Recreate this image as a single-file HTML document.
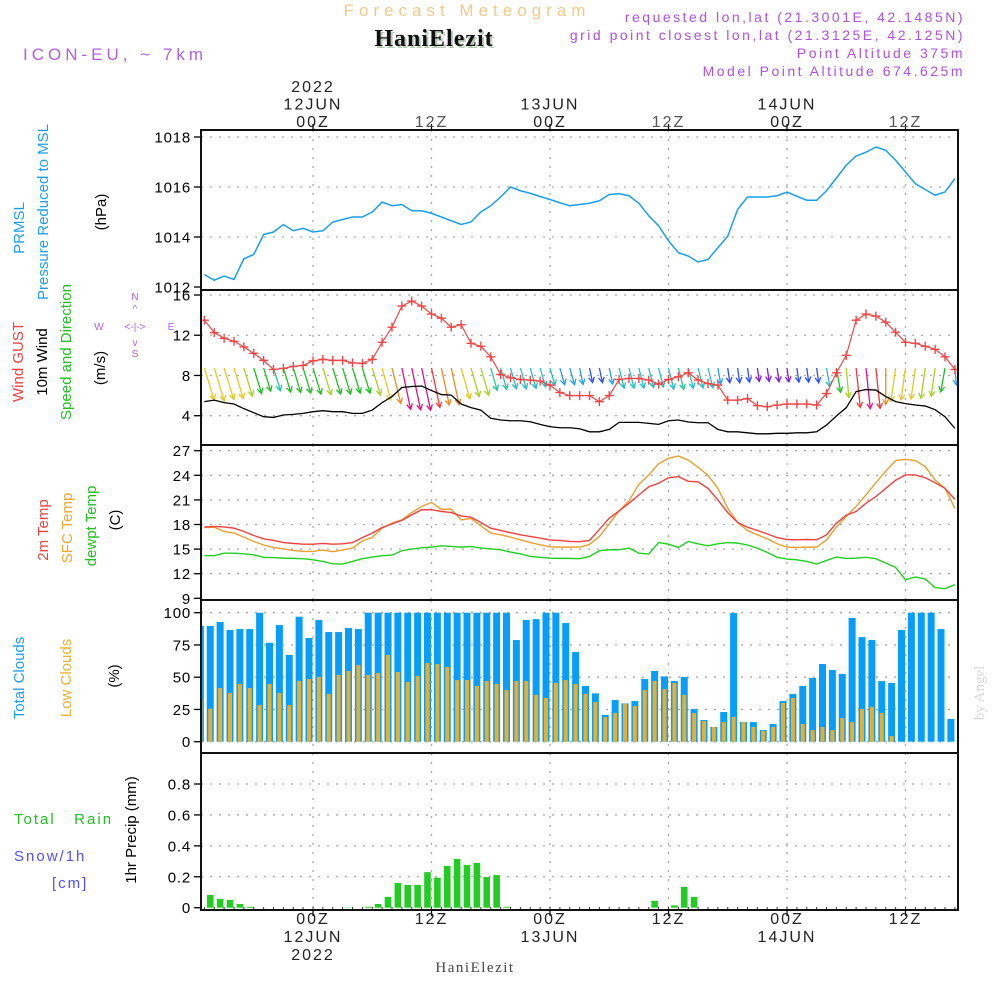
<!DOCTYPE html>
<html><head><meta charset="utf-8"><style>
html,body{margin:0;padding:0;background:#fff}
svg{display:block}
text{font-family:"Liberation Sans",sans-serif}
text.serif{font-family:"Liberation Serif",serif}
</style></head><body>
<svg id="chart" width="1000" height="1000" viewBox="0 0 1000 1000" xmlns="http://www.w3.org/2000/svg">
<text x="467" y="16" font-size="17" fill="#f2c98a" text-anchor="middle" letter-spacing="5">Forecast Meteogram</text>
<text class="serif" x="436" y="48" font-size="24" font-weight="bold" fill="#b8ccb8" text-anchor="middle" letter-spacing="1">HaniElezit</text>
<text class="serif" x="434" y="46" font-size="24" font-weight="bold" fill="#111" text-anchor="middle" letter-spacing="1">HaniElezit</text>
<text x="23" y="60" font-size="17" fill="#b060e0" letter-spacing="4">ICON-EU, ~ 7km</text>
<g font-size="14" fill="#b050e0" text-anchor="end" letter-spacing="2.5">
<text x="965" y="22">requested lon,lat (21.3001E, 42.1485N)</text>
<text x="965" y="40">grid point closest lon,lat (21.3125E, 42.125N)</text>
<text x="965" y="58">Point Altitude 375m</text>
<text x="965" y="76">Model Point Altitude 674.625m</text>
</g>
<g id="plots"></g>
<g id="labels" font-size="15">
<text transform="translate(24,228) rotate(-90)" fill="#1a9ff0" text-anchor="middle">PRMSL</text>
<text transform="translate(48,212) rotate(-90)" fill="#1a9ff0" text-anchor="middle">Pressure Reduced to MSL</text>
<text transform="translate(106,212) rotate(-90)" fill="#000" text-anchor="middle">(hPa)</text>
<text transform="translate(23,362) rotate(-90)" fill="#f04040" text-anchor="middle">Wind GUST</text>
<text transform="translate(47,362) rotate(-90)" fill="#000" text-anchor="middle">10m Wind</text>
<text transform="translate(71,352) rotate(-90)" fill="#20c020" text-anchor="middle">Speed and Direction</text>
<text transform="translate(105,368) rotate(-90)" fill="#000" text-anchor="middle">(m/s)</text>
<g fill="#b060e0" font-size="10" text-anchor="middle">
<text x="135" y="300">N</text><text x="99" y="330">W</text><text x="171" y="330">E</text><text x="135" y="357">S</text>
<text x="135" y="330">&lt;-|-&gt;</text><text x="135" y="312">^</text><text x="135" y="346">v</text>
</g>
<text transform="translate(48,530) rotate(-90)" fill="#f04040" text-anchor="middle">2m Temp</text>
<text transform="translate(72,528) rotate(-90)" fill="#f0a830" text-anchor="middle">SFC Temp</text>
<text transform="translate(96,526) rotate(-90)" fill="#20c020" text-anchor="middle">dewpt Temp</text>
<text transform="translate(120,520) rotate(-90)" fill="#000" text-anchor="middle">(C)</text>
<text transform="translate(24,678) rotate(-90)" fill="#1a9ff0" text-anchor="middle">Total Clouds</text>
<text transform="translate(71,678) rotate(-90)" fill="#f0b030" text-anchor="middle">Low Clouds</text>
<text transform="translate(119,676) rotate(-90)" fill="#000" text-anchor="middle">(%)</text>
<text x="14" y="824" fill="#20c020" letter-spacing="2" xml:space="preserve">Total   Rain</text>
<text x="14" y="861" fill="#5050f0" letter-spacing="2">Snow/1h</text>
<text x="52" y="888" fill="#5050f0" letter-spacing="2">[cm]</text>
<text transform="translate(136,830) rotate(-90)" fill="#000" text-anchor="middle">1hr Precip (mm)</text>
</g>
<text class="serif" x="475" y="972" font-size="15" fill="#444" text-anchor="middle" letter-spacing="1.5">HaniElezit</text>
<text class="serif" transform="translate(984,693) rotate(-90)" font-size="15" fill="#d8d8d8" text-anchor="middle">by Angel</text>
</svg>
<script>
// ---- data (hourly, 13Z 11JUN .. 17Z 14JUN) ----
const hours = Array.from({length:77},(_,i)=>i-11);
const pressure = [1012.5,1012.27,1012.44,1012.3,1013.13,1013.3,1014.1,1014.2,1014.5,1014.25,1014.35,1014.2,1014.25,1014.6,1014.7,1014.8,1014.8,1015.0,1015.4,1015.25,1015.3,1015.05,1015.05,1014.95,1014.8,1014.65,1014.5,1014.6,1015.0,1015.25,1015.6,1016.0,1015.85,1015.75,1015.62,1015.5,1015.37,1015.25,1015.3,1015.35,1015.45,1015.7,1015.73,1015.65,1015.35,1014.85,1014.45,1013.85,1013.37,1013.24,1013.0,1013.1,1013.57,1014.03,1015.1,1015.6,1015.6,1015.6,1015.65,1015.8,1015.63,1015.47,1015.47,1015.85,1016.36,1016.87,1017.24,1017.39,1017.6,1017.47,1017.07,1016.6,1016.13,1015.9,1015.67,1015.8,1016.33];
const gust = [13.5,12.26,11.7,11.4,10.84,10.2,9.5,8.6,8.7,8.9,9.0,9.45,9.6,9.5,9.5,9.25,9.2,9.6,11.3,12.8,14.9,15.4,14.9,14.1,13.7,12.8,13.05,11.2,10.9,9.85,8.1,7.77,7.6,7.54,7.44,7.04,6.3,6.0,6.0,6.0,5.4,6.0,7.6,7.7,7.7,7.54,7.14,7.6,7.87,8.26,7.54,7.2,7.04,5.55,5.55,5.7,5.0,4.9,5.06,5.16,5.16,5.16,5.06,6.2,8.26,10.0,13.5,14.1,13.9,13.3,12.3,11.3,11.2,10.9,10.6,9.85,8.6];
const windSpeed = [5.4,5.55,5.3,5.16,4.7,4.3,3.9,3.83,4.07,4.13,4.23,4.4,4.5,4.4,4.4,4.23,4.23,4.56,5.3,5.9,6.8,6.9,6.95,6.5,6.1,6.05,5.16,4.8,4.56,3.74,3.57,3.5,3.5,3.4,3.14,2.9,2.8,2.8,2.7,2.4,2.4,2.64,3.34,3.34,3.34,3.24,3.14,3.5,3.57,3.37,3.3,3.3,2.64,2.4,2.4,2.3,2.2,2.2,2.25,2.25,2.3,2.3,2.4,3.07,3.97,4.8,6.4,6.6,6.55,5.9,5.4,5.2,5.06,4.96,4.6,3.9,2.74];
const windDir = [343,343,343,343,343,343,343,343,343,343,343,343,343,343,343,343,343,343,345,346,348,348,348,348,348,348,344,344,344,344,344,344,344,344,344,344,344,344,348,348,348,348,346,346,346,346,346,346,346,346,346,346,350,352,352,352,352,352,352,352,352,352,352,350,350,355,354,354,354,0,8,8,8,8,8,10,355];
const temp2m = [17.7,17.76,17.7,17.55,17.15,16.66,16.26,16.05,15.8,15.69,15.6,15.6,15.69,15.6,15.65,15.8,16.4,16.95,17.63,18.08,18.5,19.17,19.8,19.8,19.6,19.46,19.05,18.9,18.24,17.55,17.27,17.0,16.74,16.54,16.34,16.1,16.05,15.93,15.9,16.05,17.4,18.77,19.66,20.6,21.6,22.6,23.03,23.7,23.84,23.27,23.2,22.4,21.0,19.45,18.24,17.67,17.27,16.86,16.4,16.17,16.13,16.17,16.13,16.74,18.16,19.13,19.58,20.6,21.4,22.4,23.4,24.04,24.04,23.7,23.1,22.4,21.08];
const tempSfc = [17.63,17.67,17.15,16.95,16.46,15.93,15.5,15.2,15.04,14.84,14.72,14.72,14.88,14.68,14.88,15.12,16.0,16.42,17.55,18.16,18.57,19.46,20.2,20.7,19.86,19.86,18.57,18.73,17.84,16.95,16.74,16.46,16.13,15.8,15.53,15.28,15.24,15.24,15.24,15.57,16.54,18.08,19.66,20.9,22.9,24.04,25.4,26.07,26.35,25.86,24.97,24.0,22.4,19.98,18.24,17.27,16.74,16.26,15.65,15.24,15.2,15.24,15.24,16.13,17.67,18.97,20.2,21.6,23.1,24.5,25.8,25.94,25.8,25.05,23.43,22.4,19.98];
const dewpt = [14.2,14.2,14.5,14.5,14.43,14.3,14.0,13.97,13.9,13.87,13.83,13.7,13.5,13.2,13.18,13.5,13.83,14.03,14.2,14.27,14.8,15.0,15.16,15.24,15.4,15.32,15.24,15.32,15.12,15.04,14.92,14.64,14.43,14.1,14.0,13.9,13.87,13.87,13.83,14.1,14.8,14.92,14.92,15.12,14.5,14.4,15.8,15.6,15.2,15.93,15.65,15.4,15.65,15.8,15.73,15.5,15.12,14.6,14.0,13.78,13.7,13.5,13.18,13.62,14.03,13.86,13.9,14.0,13.83,13.3,12.77,11.27,11.6,11.35,10.3,10.17,10.66];
const totalClouds = [89.7,89.7,92.8,86.6,87.3,87.3,100,76.7,90.4,67.2,96.9,80.4,94.3,85,85,88.1,87.3,100,100,100,100,100,100,100,100,100,100,100,100,100,100,100,78.8,94.3,95,100,100,92,69.5,43.2,37.5,20.7,32.3,29.7,31.5,48.6,54.8,50.6,47,50.1,25.3,16.8,11.4,23,99.7,15.2,15.2,9,13.7,31.5,37,43.2,49.4,60.2,55.6,52.5,95.9,81.1,78.8,47,45.5,86.6,100,100,100,87.3,17.6];
const lowClouds = [33.3,25.6,41.6,37.7,44.7,41.6,28.4,44.7,37.7,28.4,47,48.6,50.1,37,51.7,54.8,59.4,51.7,53.2,67.2,54,46.3,50.9,61,60.2,57.9,47.8,47.8,43.2,47,44.7,40,47,47,36.2,33.9,45.5,47.8,44.7,37,30.7,19.1,22.2,29.5,27.6,40,47,40.8,45.5,36.2,22.2,16,11.4,15.2,19.1,15.2,11.4,8.3,11.4,30,33.9,13.7,9,11.4,9,18.3,15.2,25.3,26.9,22.2,4.4,0,0,0,0,0,0];
const precip = [0,0.082,0.056,0.05,0.024,0.006,0,0,0,0,0,0,0,0,0,0.002,0,0.006,0.024,0.07,0.16,0.147,0.147,0.23,0.194,0.27,0.315,0.276,0.289,0.198,0.211,0.006,0,0,0,0,0,0,0,0,0,0,0,0,0,0,0.045,0,0.015,0.135,0.07,0,0,0,0,0,0,0,0,0,0,0,0,0,0,0,0,0,0,0,0,0,0,0,0,0,0];
const pTicks = [1012,1014,1016,1018];
const wTicks = [4,8,12,16];
const tTicks = [9,12,15,18,21,24,27];
const cTicks = [0,25,50,75,100];
const rTicks = [0,0.2,0.4,0.6,0.8];
const gridHours = [0,12,24,36,48,60];
const topLabels = [["2022","12JUN","00Z"],["","","12Z"],["","13JUN","00Z"],["","","12Z"],["","14JUN","00Z"],["","","12Z"]];
const botLabels = [["00Z","12JUN","2022"],["12Z","",""],["00Z","13JUN",""],["12Z","",""],["00Z","14JUN",""],["12Z","",""]];

// ---- layout ----
const NS="http://www.w3.org/2000/svg";
const L=201, R=958;
const X = h => 313 + h*9.875;
const panels = {
 p:{top:130,bot:290,min:1012,max:1018,y0:287,y1:137},
 w:{top:290,bot:445,min:4,max:16,y0:415.7,y1:295},
 t:{top:445,bot:600,min:9,max:27,y0:598.3,y1:450.7},
 c:{top:600,bot:753,min:0,max:100,y0:741.7,y1:612.7},
 r:{top:753,bot:910,min:0,max:0.8,y0:907.7,y1:784}
};
const Y=(pn,v)=>{const q=panels[pn];return q.y0+(v-q.min)*(q.y1-q.y0)/(q.max-q.min);};
const root=document.getElementById('plots');
function mk(tag,attrs,parent){const e=document.createElementNS(NS,tag);for(const k in attrs)e.setAttribute(k,attrs[k]);(parent||root).appendChild(e);return e;}

const defs=mk('defs',{});
for(const k in panels){const q=panels[k];const cp=mk('clipPath',{id:'clip-'+k},defs);mk('rect',{x:L,y:q.top,width:R-L,height:q.bot-q.top},cp);}

const tickSets={p:pTicks,w:wTicks,t:tTicks,c:cTicks,r:rTicks};
for(const k in panels){
  const q=panels[k];
  const g=mk('g',{});
  
  
  gridHours.forEach(h=>{const gl=mk('line',{x1:X(h),x2:X(h),y1:q.top,y2:q.bot,stroke:'#aaa','stroke-width':1.3,'stroke-dasharray':'2,7'},g);
    
    });
  tickSets[k].forEach(v=>{
    const y=Y(k,v);
    if(y>q.top+3&&y<q.bot-3){const hl=mk('line',{x1:L,x2:R,y1:y,y2:y,stroke:'#aaa','stroke-width':1.3,'stroke-dasharray':'2,7'},g);
      
      }
    mk('line',{x1:L-7,x2:L,y1:y,y2:y,stroke:'#000','stroke-width':1.3},g);
    const t=mk('text',{x:L-10,y:y+5.5,'text-anchor':'end','font-size':15,fill:'#000','letter-spacing':'0.8'},g);
    
    
    t.textContent=String(v);
  });
}

const pg=mk('g',{'clip-path':'url(#clip-p)'});
const pl=mk('polyline',{points:pressure.map((v,i)=>X(hours[i])+','+Y('p',v)).join(' '),fill:'none',stroke:'#1a9ff0','stroke-width':1.5},pg);



const wg=mk('g',{'clip-path':'url(#clip-w)'});
function wcol(s){if(s>=6.6)return'#e0108a';if(s>=6.2)return'#f03838';if(s>=5.75)return'#f08a20';if(s>=5.0)return'#e6c820';if(s>=4.5)return'#a6d420';if(s>=3.9)return'#20c020';if(s>=3.55)return'#20c8a0';if(s>=2.9)return'#20c0c8';if(s>=2.6)return'#20a0f0';if(s>=2.3)return'#3050f0';return'#8020e0';}
windSpeed.forEach((s,i)=>{
  const len=s*6.2, a=(windDir[i]+180)*Math.PI/180;
  const x0=X(hours[i]), y0=368;
  const x1=x0+len*Math.sin(a), y1=y0-len*Math.cos(a);
  const ux=(x1-x0)/len, uy=(y1-y0)/len, hl=6;
  const c=wcol(s);
  const ag=mk('g',{stroke:c,'stroke-width':1.3,fill:'none'},wg);
  
  
  mk('line',{x1:x0,y1:y0,x2:x1,y2:y1},ag);
  const ca=Math.cos(0.5),sa=Math.sin(0.5);
  mk('polyline',{points:`${x1-hl*(ux*ca-uy*sa)},${y1-hl*(uy*ca+ux*sa)} ${x1},${y1} ${x1-hl*(ux*ca+uy*sa)},${y1-hl*(uy*ca-ux*sa)}`},ag);
});
const sl=mk('polyline',{points:windSpeed.map((v,i)=>X(hours[i])+','+Y('w',v)).join(' '),fill:'none',stroke:'#000','stroke-width':1.3},wg);


const gl=mk('polyline',{points:gust.map((v,i)=>X(hours[i])+','+Y('w',v)).join(' '),fill:'none',stroke:'#f04848','stroke-width':1.2},wg);


gust.forEach((v,i)=>{const x=X(hours[i]),y=Y('w',v);
  const m=mk('path',{d:`M${x-4.5},${y}H${x+4.5}M${x},${y-4.5}V${y+4.5}`,stroke:'#f04848','stroke-width':1.4},wg);
  
  });

const tg=mk('g',{'clip-path':'url(#clip-t)'});
[[dewpt,'#20d020','dewpoint-line'],[tempSfc,'#eaa030','sfc-temp-line'],[temp2m,'#f04040','temp-2m-line']].forEach(([arr,c,n])=>{
  const e=mk('polyline',{points:arr.map((v,i)=>X(hours[i])+','+Y('t',v)).join(' '),fill:'none',stroke:c,'stroke-width':1.4},tg);
  
  
});

const cg=mk('g',{'clip-path':'url(#clip-c)'});
totalClouds.forEach((v,i)=>{const x=X(hours[i])-4;const y=Y('c',v);
  const b=mk('rect',{x:x-3.5,y:y,width:7,height:Y('c',0)-y,fill:'#069ef8'},cg);
  
  });
lowClouds.forEach((v,i)=>{const x=X(hours[i])-4;const y=Y('c',v);
  const b=mk('rect',{x:x-2,y:y,width:4,height:Y('c',0)-y,fill:'#e8ae2c'},cg);
  
  });

const rg=mk('g',{'clip-path':'url(#clip-r)'});
precip.forEach((v,i)=>{if(v<=0)return;const x=X(hours[i])-4;const y=Y('r',v);
  const b=mk('rect',{x:x-3.3,y:y,width:6.6,height:Y('r',0)-y,fill:'#22cc22'},rg);
  
  });

hours.forEach(h=>{mk('line',{x1:X(h),x2:X(h),y1:907,y2:911,stroke:'#333','stroke-width':1});});

for(const k in panels){const q=panels[k];const f=mk('rect',{x:L,y:q.top,width:R-L,height:q.bot-q.top,fill:'none',stroke:'#111','stroke-width':2});
  
  }

gridHours.forEach((h,j)=>{
  mk('line',{x1:X(h),x2:X(h),y1:124,y2:130,stroke:'#000','stroke-width':1.2});
  mk('line',{x1:X(h),x2:X(h),y1:910,y2:916,stroke:'#000','stroke-width':1.2});
  topLabels[j].forEach((s,r)=>{if(!s)return;const t=mk('text',{x:X(h),y:92+r*17.5,'text-anchor':'middle','font-size':16,fill:r==2&&j%2==1?'#555':'#222','letter-spacing':'2'});
    
    
    t.textContent=s;});
  botLabels[j].forEach((s,r)=>{if(!s)return;const t=mk('text',{x:X(h),y:924+r*18,'text-anchor':'middle','font-size':16,fill:'#222','letter-spacing':'2'});
    
    
    t.textContent=s;});
});
</script>
</body></html>
